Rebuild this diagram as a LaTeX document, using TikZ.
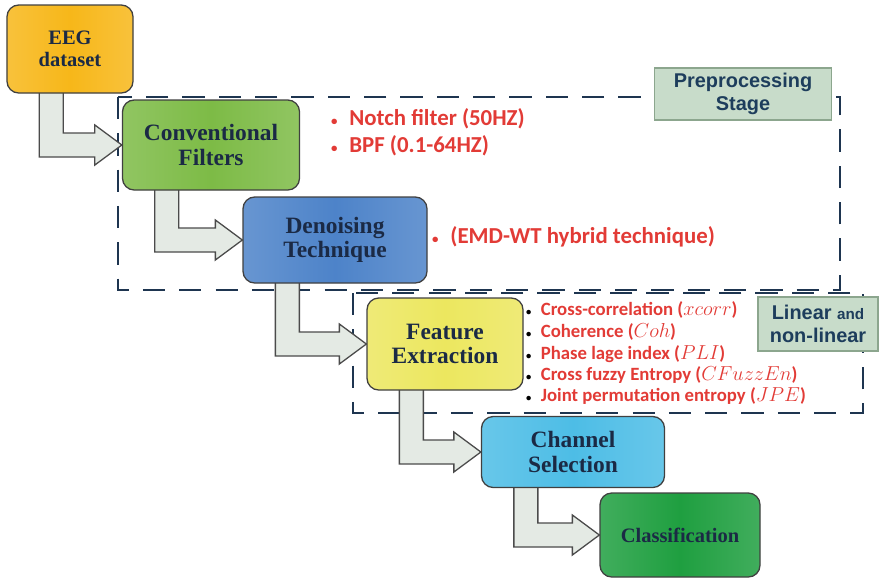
\documentclass[tikz,border=0pt]{standalone}
\usepackage{amsmath}
\usepackage{fontspec}
\usepackage{tikz}
\usetikzlibrary{calc}
\newfontfamily\notefont{Carlito}
\newfontfamily\tagfont{Liberation Sans}
\newfontfamily\stagefont{Liberation Serif}

\definecolor{navytext}{HTML}{1B2A45}
\definecolor{eegorange}{HTML}{F7B719}
\definecolor{filtgreen}{HTML}{7DBB46}
\definecolor{denblue}{HTML}{4D83C9}
\definecolor{featyellow}{HTML}{ECE75F}
\definecolor{chancyan}{HTML}{4DBDE6}
\definecolor{classgreen}{HTML}{1F9F40}
\definecolor{notered}{HTML}{E23B36}
\definecolor{dashnavy}{HTML}{1E3550}
\definecolor{tagfill}{HTML}{C8DCCA}
\definecolor{tagedge}{HTML}{8CA68E}
\definecolor{tagtext}{HTML}{1D3D5C}
\definecolor{arrowfill}{HTML}{E4EAE4}
\definecolor{arrowedge}{HTML}{4B4B4B}

\pgfdeclarelayer{frames}
\pgfdeclarelayer{arrows}
\pgfsetlayers{frames,arrows,main}

% small bullets for the notes
\newcommand{\redbullet}{{\fontsize{11}{11}\selectfont\textbullet}\hspace{10pt}}
\newcommand{\blackbullet}{{\color{black}\fontsize{9}{9}\selectfont\textbullet}\hspace{8pt}}

\tikzset{
  stagebox/.style={draw=black!75, line width=1.1pt, rounded corners=10pt,
    align=center, inner sep=0pt, text=navytext,
    font=\stagefont\bfseries\fontsize{20}{21}\selectfont,
    left color=#1!85!white, right color=#1!85!white, middle color=#1},
  notetext/.style={anchor=base west, inner sep=0pt, text=notered,
    font=\notefont\bfseries\fontsize{19.5}{22}\selectfont},
  featnote/.style={notetext, font=\notefont\bfseries\fontsize{16}{18}\selectfont},
  tagbox/.style={draw=tagedge, line width=1.2pt, fill=tagfill, text=tagtext,
    align=center, inner sep=0pt, font=\tagfont\bfseries\fontsize{17}{20}\selectfont},
  stageframe/.style={draw=dashnavy, line width=2.4pt, dash pattern=on 19pt off 12pt},
  flowarrow/.style={fill=arrowfill, draw=arrowedge, line width=1.1pt, line join=miter}
}

% bent block arrow from the bottom of #1 to the left side of #2
\newcommand{\flowarrow}[2]{%
  \coordinate (s) at ($(#1.south west)+(45,-6)$);
  \coordinate (t) at (#2.west);
  \draw[flowarrow] ($(s)+(-12,0)$) -- ($(s |- t)+(-12,12)$) -- ($(t)+(-27,12)$)
    -- ($(t)+(-27,20)$) -- (t) -- ($(t)+(-27,-20)$) -- ($(t)+(-27,-12)$)
    -- ($(s |- t)+(12,-12)$) -- ($(s)+(12,0)$) -- cycle;}

\begin{document}
\begin{tikzpicture}[x=0.03cm, y=-0.03cm]
  \useasboundingbox (0,0) rectangle (881,582);

  % the stages
  \node[stagebox=eegorange, minimum width=3.78cm, minimum height=2.64cm,
    font=\stagefont\bfseries\fontsize{17.5}{19}\selectfont] (eeg) at (70,49) {EEG\\dataset};
  \node[stagebox=filtgreen, minimum width=5.31cm, minimum height=2.7cm] (filt) at (211,145) {Conventional\\Filters};
  \node[stagebox=denblue, minimum width=5.52cm, minimum height=2.58cm] (den) at (335,240) {Denoising\\Technique};
  \node[stagebox=featyellow, minimum width=4.68cm, minimum height=2.76cm] (feat) at (445,344) {Feature\\Extraction};
  \node[stagebox=chancyan, minimum width=5.49cm, minimum height=2.13cm] (chan) at (573,452) {Channel\\Selection};
  \node[stagebox=classgreen, minimum width=4.8cm, minimum height=2.52cm,
    font=\stagefont\bfseries\fontsize{17.5}{19}\selectfont] (clas) at (680,535) {Classification};

  % arrows between the stages
  \begin{pgfonlayer}{arrows}
    \flowarrow{eeg}{filt}
    \flowarrow{filt}{den}
    \flowarrow{den}{feat}
    \flowarrow{feat}{chan}
    \flowarrow{chan}{clas}
  \end{pgfonlayer}

  % dashed frames and their tags
  \begin{pgfonlayer}{frames}
    \draw[stageframe] (118,97) rectangle (840,290);
    \draw[stageframe] (353,293) rectangle (863,413);
  \end{pgfonlayer}
  \node[tagbox, minimum width=5.31cm, minimum height=1.56cm] (prep) at (743,94) {Preprocessing\\Stage};
  \node[tagbox, minimum width=3.6cm, minimum height=1.62cm] (lin) at (818,324)
    {Linear {\fontsize{13}{15}\selectfont and}\\non-linear};

  % notes
  \node[notetext] (notch) at (331,125) {\redbullet Notch filter (50HZ)};
  \node[notetext] (bpf) at (331,152) {\redbullet BPF (0.1-64HZ)};
  \node[notetext] (emd) at (432,243) {\redbullet (EMD-WT hybrid technique)};
  \node[featnote] (xcorr) at (526,315) {\blackbullet Cross-correlation ($xcorr$)};
  \node[featnote] (coh) at (526,337) {\blackbullet Coherence ($Coh$)};
  \node[featnote] (pli) at (526,359) {\blackbullet Phase lage index ($PLI$)};
  \node[featnote] (cfe) at (526,380) {\blackbullet Cross fuzzy Entropy ($CFuzzEn$)};
  \node[featnote] (jpe) at (526,401) {\blackbullet Joint permutation entropy ($JPE$)};
\end{tikzpicture}
\end{document}
